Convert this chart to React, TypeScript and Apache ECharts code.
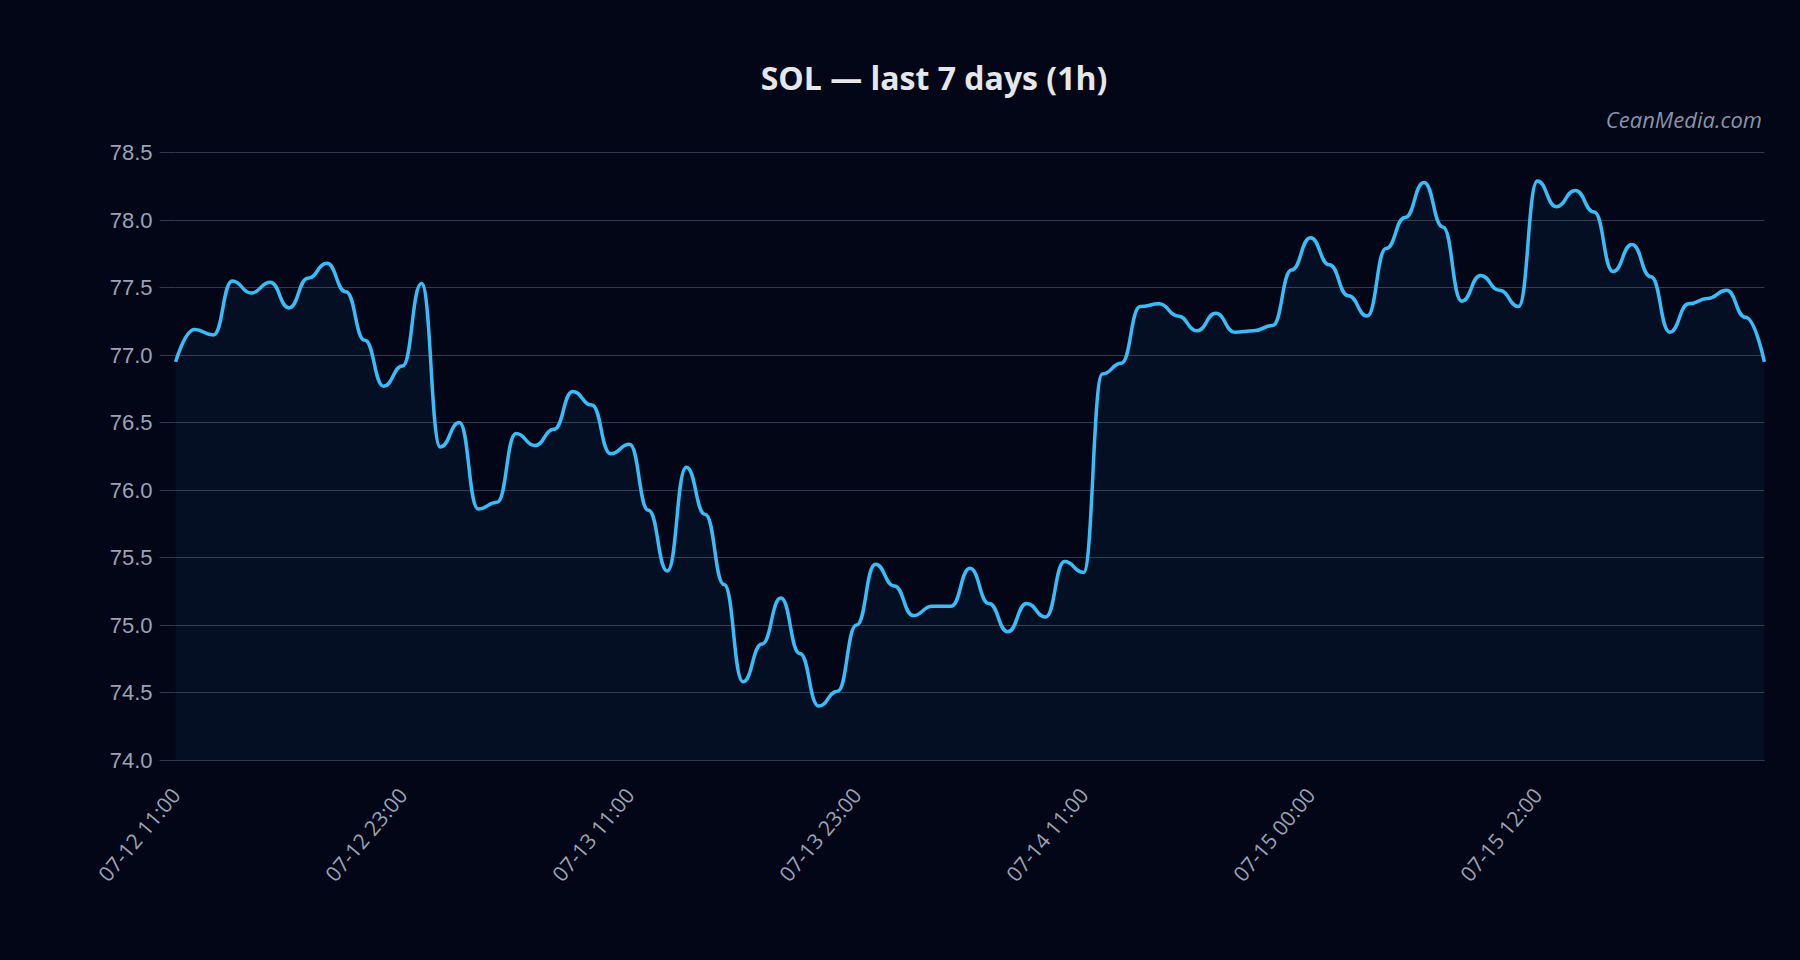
import React, { useEffect, useRef } from "react";
import * as echarts from "echarts";

const categories: string[] = [
  "07-12 11:00", "07-12 12:00", "07-12 13:00", "07-12 14:00", "07-12 15:00", "07-12 16:00", "07-12 17:00",
  "07-12 18:00", "07-12 19:00", "07-12 20:00", "07-12 21:00", "07-12 22:00", "07-12 23:00",
  "07-13 00:00", "07-13 01:00", "07-13 02:00", "07-13 03:00", "07-13 04:00", "07-13 05:00",
  "07-13 06:00", "07-13 07:00", "07-13 08:00", "07-13 09:00", "07-13 10:00", "07-13 11:00",
  "07-13 12:00", "07-13 13:00", "07-13 14:00", "07-13 15:00", "07-13 16:00", "07-13 17:00",
  "07-13 18:00", "07-13 19:00", "07-13 20:00", "07-13 21:00", "07-13 22:00", "07-13 23:00",
  "07-14 00:00", "07-14 01:00", "07-14 02:00", "07-14 03:00", "07-14 04:00", "07-14 05:00",
  "07-14 06:00", "07-14 07:00", "07-14 08:00", "07-14 09:00", "07-14 10:00", "07-14 11:00",
  "07-14 12:00", "07-14 13:00", "07-14 14:00", "07-14 15:00", "07-14 16:00", "07-14 18:00",
  "07-14 19:00", "07-14 20:00", "07-14 21:00", "07-14 22:00", "07-14 23:00", "07-15 00:00",
  "07-15 01:00", "07-15 02:00", "07-15 03:00", "07-15 04:00", "07-15 05:00", "07-15 06:00",
  "07-15 07:00", "07-15 08:00", "07-15 09:00", "07-15 10:00", "07-15 11:00", "07-15 12:00",
  "07-15 13:00", "07-15 14:00", "07-15 15:00", "07-15 16:00", "07-15 17:00", "07-15 18:00",
  "07-15 19:00", "07-15 20:00", "07-15 21:00", "07-15 22:00", "07-15 23:00", "07-16 00:00",
];

const prices: number[] = [
  76.95, 77.19, 77.15, 77.55, 77.46, 77.54, 77.35, 77.57, 77.68, 77.47,
  77.11, 76.77, 76.92, 77.53, 76.32, 76.50, 75.86, 75.91, 76.42, 76.33,
  76.45, 76.73, 76.63, 76.27, 76.34, 75.85, 75.40, 76.17, 75.82, 75.30,
  74.58, 74.86, 75.20, 74.79, 74.40, 74.51, 75.00, 75.45, 75.29, 75.07,
  75.14, 75.14, 75.42, 75.16, 74.95, 75.16, 75.06, 75.47, 75.39, 76.86,
  76.94, 77.36, 77.38, 77.29, 77.18, 77.31, 77.17, 77.18, 77.22, 77.63,
  77.87, 77.67, 77.44, 77.29, 77.79, 78.02, 78.28, 77.95, 77.40, 77.59,
  77.48, 77.36, 78.29, 78.10, 78.22, 78.06, 77.62, 77.82, 77.58, 77.17,
  77.38, 77.42, 77.48, 77.28, 76.95,
];

const yMin = 74.0;
const yMax = 78.5;
const yStep = 0.5;

const titleText = "SOL — last 7 days (1h)";
const watermarkText = "CeanMedia.com";

export default function App() {
  const ref = useRef<HTMLDivElement>(null);
  useEffect(() => {
    if (!ref.current) return;
    const chart = echarts.init(ref.current, null, { renderer: "svg" });
    chart.setOption({
      animation: false,
      backgroundColor: "#020617",
      title: {
        text: titleText,
        left: 934,
        top: 61,
        padding: 0,
        textAlign: "center",
        textStyle: {
          color: "#e5e7eb",
          fontSize: 32,
          fontWeight: "bold",
          fontFamily: "Open Sans",
        },
      },
      graphic: [
        {
          type: "text",
          x: 1762,
          y: 119,
          style: {
            text: watermarkText,
            fill: "#8a93a6",
            font: 'italic 22px "Open Sans"',
            textAlign: "right",
            textVerticalAlign: "middle",
          },
        },
      ],
      grid: { left: 175.6, right: 35.6, top: 152.7, bottom: 200, containLabel: false },
      xAxis: {
        type: "category",
        data: categories,
        boundaryGap: false,
        axisLine: { show: true, lineStyle: { color: "#303a4c", width: 1 } },
        axisTick: { show: false },
        axisLabel: {
          interval: 11,
          showMaxLabel: false,
          rotate: 50,
          color: "#9aa3b5",
          fontSize: 21,
          fontFamily: "Open Sans",
          margin: 31,
        },
        splitLine: { show: false },
      },
      yAxis: {
        type: "value",
        min: yMin,
        max: yMax,
        interval: yStep,
        axisLine: { show: false },
        axisTick: { show: true, length: 16, lineStyle: { color: "#303a4c", width: 1 } },
        axisLabel: {
          color: "#9aa3b5",
          fontSize: 22,
          fontFamily: "Liberation Sans",
          margin: 23,
          formatter: (v: number) => v.toFixed(1),
        },
        splitLine: { show: true, lineStyle: { color: "#303a4c", width: 1 } },
      },
      series: [
        {
          type: "line",
          data: prices,
          smooth: true,
          smoothMonotone: "x",
          symbol: "none",
          lineStyle: { color: "#38bdf8", width: 3.5 },
          areaStyle: { color: "rgba(56,189,248,0.08)" },
        },
      ],
    });
    return () => chart.dispose();
  }, []);
  return (
    <div
      ref={ref}
      style={{ position: "fixed", left: 0, top: 0, width: 1800, height: 960 }}
    />
  );
}
